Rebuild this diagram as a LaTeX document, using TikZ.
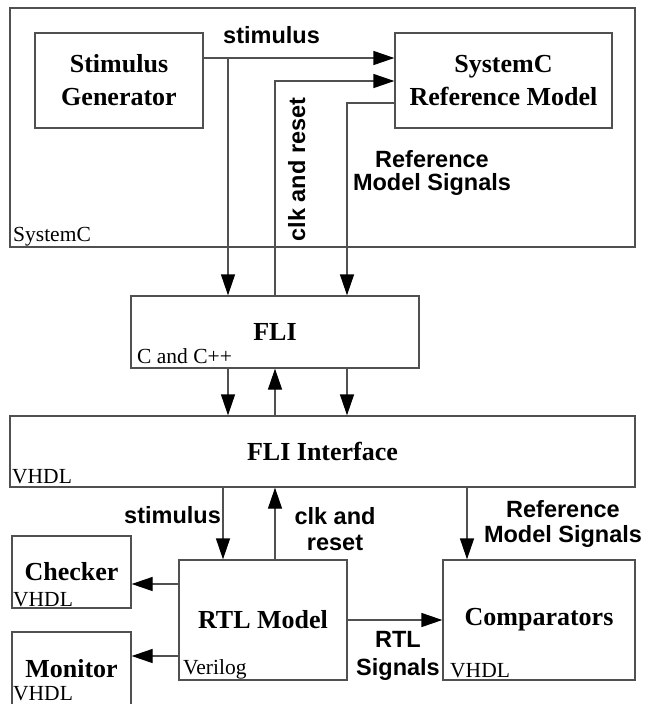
\documentclass[tikz,border=0pt]{standalone}
\usepackage{fontspec}
\setmainfont{Liberation Serif}
\setsansfont{Liberation Sans}
\usetikzlibrary{arrows.meta}
\definecolor{linegray}{RGB}{80,80,80}

\begin{document}
\begin{tikzpicture}[x=1pt,y=-1pt,
  line/.style={draw=linegray, line width=1.3pt},
  box/.style={line, rectangle, inner sep=0pt, align=center,
    font={\fontsize{26}{33}\selectfont\bfseries}},
  sig/.style={line, -{Triangle[length=21pt,width=14pt,color=black,fill=black]}},
  lang/.style={font={\fontsize{21.5}{24}\selectfont}, inner sep=0pt, anchor=base west},
  tag/.style={font={\sffamily\bfseries\fontsize{23.5}{26}\selectfont}, inner sep=0pt, anchor=base},
]
\useasboundingbox[fill=white] (0,0) rectangle (653,704);

% ---- blocks ----
\node[box, minimum width=625pt, minimum height=239pt] (sc)  at (322.5,127.5) {};
\node[box, minimum width=168pt, minimum height=95pt]  (sg)  at (119,80.5)    {Stimulus\\Generator};
\node[box, minimum width=217pt, minimum height=95pt]  (rm)  at (503.5,80.5)  {SystemC\\Reference Model};
\node[box, minimum width=288pt, minimum height=72pt]  (fli) at (275,332)     {FLI};
\node[box, minimum width=625pt, minimum height=71pt]  (fi)  at (322.5,451.5) {FLI Interface};
\node[box, minimum width=119pt, minimum height=72pt]  (chk) at (71.5,572)    {Checker};
\node[box, minimum width=119pt, minimum height=74pt]  (mon) at (71.5,669)    {Monitor};
\node[box, minimum width=168pt, minimum height=120pt] (rtl) at (263,620)     {RTL Model};
\node[box, minimum width=192pt, minimum height=120pt] (cmp) at (539,620)     {Comparators};

% ---- language tags ----
\node[lang] (tSc)  at (13,241)  {SystemC};
\node[lang] (tFli) at (137,363) {C and C++};
\node[lang] (tFi)  at (12,483)  {VHDL};
\node[lang] (tChk) at (13,606)  {VHDL};
\node[lang] (tMon) at (13,700)  {VHDL};
\node[lang] (tRtl) at (183,674) {Verilog};
\node[lang] (tCmp) at (450,677) {VHDL};

% ---- routing coordinates ----
\coordinate (yStim) at (0,58);
\coordinate (yClk)  at (0,81);
\coordinate (yRef)  at (0,103);
\coordinate (xStim) at (228,0);
\coordinate (xClk)  at (275,0);
\coordinate (xRef)  at (347,0);
\coordinate (xStimB) at (223,0);
\coordinate (xRefB)  at (467,0);
\coordinate (yChk) at (0,584);
\coordinate (yMon) at (0,656);

% ---- SystemC side ----
\draw[sig] (sg.east |- yStim) -- (rm.west |- yStim);
\draw[sig] (xStim |- yStim) -- (xStim |- fli.north);
\draw[sig] (xClk |- fli.north) -- (xClk |- yClk) -- (rm.west |- yClk);
\draw[sig] (rm.west |- yRef) -- (xRef |- yRef) -- (xRef |- fli.north);

% ---- FLI to interface ----
\draw[sig] (xStim |- fli.south) -- (xStim |- fi.north);
\draw[sig] (xClk |- fi.north) -- (xClk |- fli.south);
\draw[sig] (xRef |- fli.south) -- (xRef |- fi.north);

% ---- HDL side ----
\draw[sig] (xStimB |- fi.south) -- (xStimB |- rtl.north);
\draw[sig] (xClk |- rtl.north) -- (xClk |- fi.south);
\draw[sig] (xRefB |- fi.south) -- (xRefB |- cmp.north);
\draw[sig] (rtl.west |- yChk) -- (chk.east |- yChk);
\draw[sig] (rtl.west |- yMon) -- (mon.east |- yMon);
\draw[sig] (rtl.east) -- (cmp.west);

% ---- signal labels ----
\node[tag] (lStim) at (271.5,43) {stimulus};
\node[tag, rotate=90] (lClk) at (305,169.5) {clk and reset};
\node[tag] (lRefA) at (432,167) {Reference};
\node[tag] (lRefB) at (432,190) {Model Signals};
\node[tag] (lStimB) at (172.5,523) {stimulus};
\node[tag] (lClkA) at (335,524) {clk and};
\node[tag] (lClkB) at (335,550) {reset};
\node[tag] (lRefC) at (563,517) {Reference};
\node[tag] (lRefD) at (563,542) {Model Signals};
\node[tag] (lRtlA) at (398,647) {RTL};
\node[tag] (lRtlB) at (398,675) {Signals};
\end{tikzpicture}
\end{document}
